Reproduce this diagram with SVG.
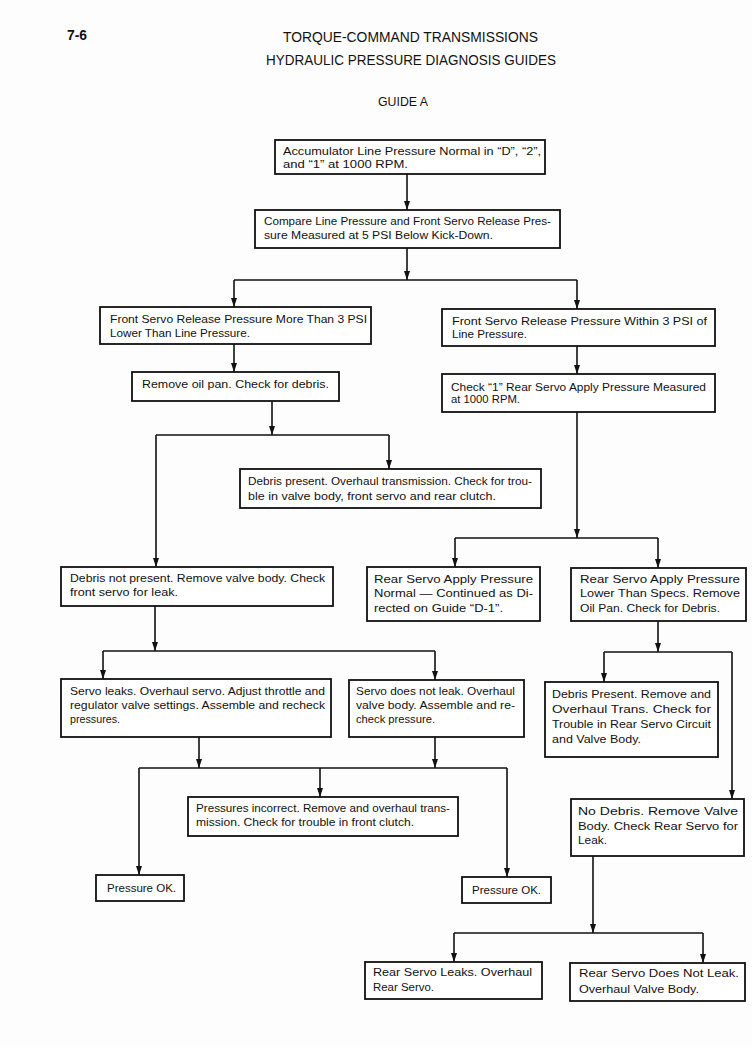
<svg xmlns="http://www.w3.org/2000/svg" width="752" height="1047" viewBox="0 0 752 1047">
<defs>
<style>
.bg{fill:#fdfdfd}
.box{fill:#ffffff;stroke:#111;stroke-width:1.8}
.t{font-family:"Liberation Sans",Arial,sans-serif;font-size:11.5px;fill:#111}
.h{font-family:"Liberation Sans",Arial,sans-serif;font-size:14px;fill:#111}
.c{fill:none;stroke:#111;stroke-width:1.6}
.a{fill:none;stroke:#111;stroke-width:1.6;marker-end:url(#ah)}
</style>
<marker id="ah" markerUnits="userSpaceOnUse" markerWidth="9" markerHeight="6" refX="9" refY="3" orient="auto">
<path d="M0,0 L9,3 L0,6 z" fill="#111"/>
</marker>
</defs>
<rect class="bg" x="0" y="0" width="752" height="1047"/>
<g id="header">
<text class="h" x="67" y="40" style="font-weight:bold" textLength="20" lengthAdjust="spacingAndGlyphs">7-6</text>
<text class="h" x="283" y="42" textLength="255" lengthAdjust="spacingAndGlyphs">TORQUE-COMMAND TRANSMISSIONS</text>
<text class="h" x="266" y="65" textLength="290" lengthAdjust="spacingAndGlyphs">HYDRAULIC PRESSURE DIAGNOSIS GUIDES</text>
<text class="h" x="378" y="106" style="font-size:12.5px" textLength="50" lengthAdjust="spacingAndGlyphs">GUIDE A</text>
</g>
<g id="connectors">
<path class="a" d="M407,174 V210"/>
<path class="a" d="M407,248 V280"/>
<path class="c" d="M234,280 H577"/>
<path class="a" d="M234,280 V307"/>
<path class="a" d="M577,280 V309"/>
<path class="a" d="M234,344 V372"/>
<path class="a" d="M577,346 V374"/>
<path class="a" d="M272,401 V435"/>
<path class="c" d="M156,435 H389"/>
<path class="a" d="M389,435 V469"/>
<path class="a" d="M156,435 V567"/>
<path class="a" d="M577,412 V538"/>
<path class="c" d="M455,538 H658"/>
<path class="a" d="M455,538 V567"/>
<path class="a" d="M658,538 V568"/>
<path class="a" d="M155,606 V651"/>
<path class="c" d="M103,651 H435"/>
<path class="a" d="M103,651 V679"/>
<path class="a" d="M435,651 V680"/>
<path class="a" d="M658,621 V652"/>
<path class="c" d="M604,652 H732"/>
<path class="a" d="M604,652 V682"/>
<path class="a" d="M732,652 V799"/>
<path class="a" d="M199,737 V768"/>
<path class="a" d="M435,737 V768"/>
<path class="c" d="M139,768 H507"/>
<path class="a" d="M139,768 V875"/>
<path class="a" d="M320,768 V797"/>
<path class="a" d="M507,768 V877"/>
<path class="a" d="M593,856 V933"/>
<path class="c" d="M454,933 H703"/>
<path class="a" d="M454,933 V962"/>
<path class="a" d="M703,933 V963"/>
</g>
<g id="n1">
<rect class="box" x="275" y="140" width="270" height="34"/>
<text class="t" x="283" y="155" textLength="258" lengthAdjust="spacingAndGlyphs">Accumulator Line Pressure Normal in “D”, “2”,</text>
<text class="t" x="283" y="168" textLength="125" lengthAdjust="spacingAndGlyphs">and “1” at 1000 RPM.</text>
</g>
<g id="n2">
<rect class="box" x="255" y="210" width="305" height="38"/>
<text class="t" x="264" y="225" textLength="287" lengthAdjust="spacingAndGlyphs">Compare Line Pressure and Front Servo Release Pres-</text>
<text class="t" x="264" y="239" textLength="229" lengthAdjust="spacingAndGlyphs">sure Measured at 5 PSI Below Kick-Down.</text>
</g>
<g id="n3">
<rect class="box" x="100" y="307" width="271" height="37"/>
<text class="t" x="110" y="323" textLength="257" lengthAdjust="spacingAndGlyphs">Front Servo Release Pressure More Than 3 PSI</text>
<text class="t" x="110" y="337" textLength="140" lengthAdjust="spacingAndGlyphs">Lower Than Line Pressure.</text>
</g>
<g id="n4">
<rect class="box" x="442" y="309" width="273" height="37"/>
<text class="t" x="452" y="325" textLength="255" lengthAdjust="spacingAndGlyphs">Front Servo Release Pressure Within 3 PSI of</text>
<text class="t" x="452" y="338" textLength="75" lengthAdjust="spacingAndGlyphs">Line Pressure.</text>
</g>
<g id="n5">
<rect class="box" x="132" y="372" width="207" height="29"/>
<text class="t" x="142" y="388" textLength="187" lengthAdjust="spacingAndGlyphs">Remove oil pan. Check for debris.</text>
</g>
<g id="n6">
<rect class="box" x="442" y="374" width="273" height="38"/>
<text class="t" x="451" y="391" textLength="255" lengthAdjust="spacingAndGlyphs">Check “1” Rear Servo Apply Pressure Measured</text>
<text class="t" x="451" y="403" textLength="69" lengthAdjust="spacingAndGlyphs">at 1000 RPM.</text>
</g>
<g id="n7">
<rect class="box" x="240" y="469" width="301" height="39"/>
<text class="t" x="248" y="485" textLength="284" lengthAdjust="spacingAndGlyphs">Debris present. Overhaul transmission. Check for trou-</text>
<text class="t" x="248" y="500" textLength="248" lengthAdjust="spacingAndGlyphs">ble in valve body, front servo and rear clutch.</text>
</g>
<g id="n8">
<rect class="box" x="61" y="567" width="272" height="39"/>
<text class="t" x="70" y="582" textLength="255" lengthAdjust="spacingAndGlyphs">Debris not present. Remove valve body. Check</text>
<text class="t" x="70" y="596" textLength="108" lengthAdjust="spacingAndGlyphs">front servo for leak.</text>
</g>
<g id="n9">
<rect class="box" x="367" y="567" width="173" height="54"/>
<text class="t" x="374" y="583" textLength="159" lengthAdjust="spacingAndGlyphs">Rear Servo Apply Pressure</text>
<text class="t" x="374" y="597" textLength="159" lengthAdjust="spacingAndGlyphs">Normal — Continued as Di-</text>
<text class="t" x="374" y="612" textLength="129" lengthAdjust="spacingAndGlyphs">rected on Guide “D-1”.</text>
</g>
<g id="n10">
<rect class="box" x="571" y="568" width="175" height="53"/>
<text class="t" x="580" y="583" textLength="160" lengthAdjust="spacingAndGlyphs">Rear Servo Apply Pressure</text>
<text class="t" x="580" y="597" textLength="160" lengthAdjust="spacingAndGlyphs">Lower Than Specs. Remove</text>
<text class="t" x="580" y="612" textLength="140" lengthAdjust="spacingAndGlyphs">Oil Pan. Check for Debris.</text>
</g>
<g id="n11">
<rect class="box" x="61" y="679" width="270" height="58"/>
<text class="t" x="70" y="695" textLength="255" lengthAdjust="spacingAndGlyphs">Servo leaks. Overhaul servo. Adjust throttle and</text>
<text class="t" x="70" y="709" textLength="255" lengthAdjust="spacingAndGlyphs">regulator valve settings. Assemble and recheck</text>
<text class="t" x="70" y="723" textLength="50" lengthAdjust="spacingAndGlyphs">pressures.</text>
</g>
<g id="n12">
<rect class="box" x="349" y="680" width="175" height="57"/>
<text class="t" x="356" y="695" textLength="159" lengthAdjust="spacingAndGlyphs">Servo does not leak. Overhaul</text>
<text class="t" x="356" y="709" textLength="159" lengthAdjust="spacingAndGlyphs">valve body. Assemble and re-</text>
<text class="t" x="356" y="723" textLength="79" lengthAdjust="spacingAndGlyphs">check pressure.</text>
</g>
<g id="n13">
<rect class="box" x="545" y="682" width="173" height="75"/>
<text class="t" x="552" y="698" textLength="159" lengthAdjust="spacingAndGlyphs">Debris Present. Remove and</text>
<text class="t" x="552" y="713" textLength="159" lengthAdjust="spacingAndGlyphs">Overhaul Trans. Check for</text>
<text class="t" x="552" y="728" textLength="159" lengthAdjust="spacingAndGlyphs">Trouble in Rear Servo Circuit</text>
<text class="t" x="552" y="743" textLength="89" lengthAdjust="spacingAndGlyphs">and Valve Body.</text>
</g>
<g id="n14">
<rect class="box" x="188" y="797" width="270" height="39"/>
<text class="t" x="196" y="812" textLength="254" lengthAdjust="spacingAndGlyphs">Pressures incorrect. Remove and overhaul trans-</text>
<text class="t" x="196" y="826" textLength="218" lengthAdjust="spacingAndGlyphs">mission. Check for trouble in front clutch.</text>
</g>
<g id="n15">
<rect class="box" x="571" y="799" width="173" height="57"/>
<text class="t" x="578" y="815" textLength="160" lengthAdjust="spacingAndGlyphs">No Debris. Remove Valve</text>
<text class="t" x="578" y="830" textLength="160" lengthAdjust="spacingAndGlyphs">Body. Check Rear Servo for</text>
<text class="t" x="578" y="844" textLength="29" lengthAdjust="spacingAndGlyphs">Leak.</text>
</g>
<g id="n16">
<rect class="box" x="96" y="875" width="88" height="26"/>
<text class="t" x="107" y="892" textLength="69" lengthAdjust="spacingAndGlyphs">Pressure OK.</text>
</g>
<g id="n17">
<rect class="box" x="462" y="877" width="89" height="26"/>
<text class="t" x="472" y="894" textLength="69" lengthAdjust="spacingAndGlyphs">Pressure OK.</text>
</g>
<g id="n18">
<rect class="box" x="365" y="962" width="177" height="37"/>
<text class="t" x="373" y="976" textLength="159" lengthAdjust="spacingAndGlyphs">Rear Servo Leaks. Overhaul</text>
<text class="t" x="373" y="991" textLength="61" lengthAdjust="spacingAndGlyphs">Rear Servo.</text>
</g>
<g id="n19">
<rect class="box" x="570" y="963" width="175" height="38"/>
<text class="t" x="579" y="977" textLength="160" lengthAdjust="spacingAndGlyphs">Rear Servo Does Not Leak.</text>
<text class="t" x="579" y="993" textLength="120" lengthAdjust="spacingAndGlyphs">Overhaul Valve Body.</text>
</g>
</svg>
